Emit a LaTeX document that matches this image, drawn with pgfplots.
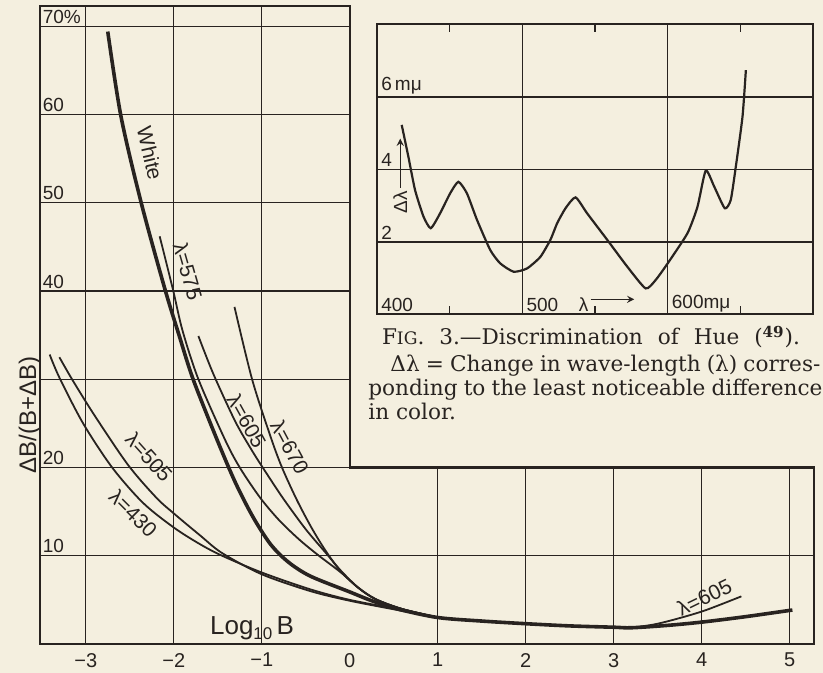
\documentclass[border=0pt]{standalone}
\usepackage{fontspec}
\usepackage{pgfplots}
\pgfplotsset{compat=1.18}
\newfontfamily\chart{Liberation Sans}
\newfontfamily\capfont{DejaVu Serif}
\definecolor{paper}{RGB}{244,239,223}
\definecolor{ink}{RGB}{40,35,32}
\begin{document}
\begin{tikzpicture}
\fill[paper] (0pt,0pt) rectangle (411.5pt,336.5pt);
\useasboundingbox (0pt,0pt) rectangle (411.5pt,336.5pt);
% ---------------- main chart ----------------
\begin{axis}[
  at={(20pt,14.5pt)}, anchor=south west,
  scale only axis, width=387.2pt, height=319pt,
  xmin=-3.52, xmax=5.28, ymin=0, ymax=72.3,
  axis line style={draw=none},
  xtick={-3,-2,-1,0,1,2,3,4,5},
  xticklabels={−3,−2,−1,0,1,2,3,4,5},
  ytick=\empty,
  major tick length=0pt,
  xticklabel style={font=\chart\fontsize{10}{12}\selectfont, text=ink, yshift=-1pt},
  clip=false,
]
% grid
\draw[ink, line width=0.7pt]
  (axis cs:-3,0) -- (axis cs:-3,72.3)
  (axis cs:-2,0) -- (axis cs:-2,72.3)
  (axis cs:-1,0) -- (axis cs:-1,72.3)
  (axis cs:1,0) -- (axis cs:1,20)
  (axis cs:2,0) -- (axis cs:2,20)
  (axis cs:3,0) -- (axis cs:3,20)
  (axis cs:4,0) -- (axis cs:4,20)
  (axis cs:5,0) -- (axis cs:5,20)
  (axis cs:-3.52,10) -- (axis cs:5.28,10)
  (axis cs:-3.52,20) -- (axis cs:0,20)
  (axis cs:-3.52,30) -- (axis cs:0,30)
  (axis cs:-3.52,40) -- (axis cs:0,40)
  (axis cs:-3.52,50) -- (axis cs:0,50)
  (axis cs:-3.52,60) -- (axis cs:0,60)
  (axis cs:-3.52,70) -- (axis cs:0,70);
% L-shaped frame
\draw[ink, line width=1.1pt] (axis cs:-3.52,0) -- (axis cs:5.28,0) -- (axis cs:5.28,20)
  -- (axis cs:0,20) -- (axis cs:0,72.3) -- (axis cs:-3.52,72.3) -- cycle;
% y value labels inside the plot
\begin{scope}[every node/.style={font=\chart\fontsize{9.5}{10}\selectfont, text=ink, anchor=south west, inner sep=1.2pt}]
\node at (axis cs:-3.52,70) {70\%};
\node at (axis cs:-3.52,60) {60};
\node at (axis cs:-3.52,50) {50};
\node at (axis cs:-3.52,40) {40};
\node at (axis cs:-3.52,20) {20};
\node at (axis cs:-3.52,10) {10};
\end{scope}
% curves
% White
\addplot[ink, line width=1.8pt, smooth, tension=0.5] coordinates {
(-2.75,69.4) (-2.60,59.8) (-2.37,50.0) (-2.10,40.2) (-1.94,35.0) (-1.78,30.0)
(-1.51,23.2) (-1.30,18.3) (-1.10,14.4) (-0.90,11.3) (-0.70,9.3) (-0.45,7.7)
(0,5.9) (0.25,4.9) (0.55,3.95) (1.0,3.0) (1.5,2.6) (2.0,2.3) (2.5,2.05)
(3.0,1.9) (3.2,1.84) (3.6,2.1) (4.0,2.48) (4.5,3.1) (5.03,3.85)};
% 575
\addplot[ink, line width=0.9pt, smooth, tension=0.5] coordinates {
(-2.16,46.2) (-2.01,40.2) (-1.90,35.5) (-1.72,30.0) (-1.42,23.2) (-1.25,20.0)
(-1.02,16.6) (-0.80,14.0) (-0.57,11.8) (-0.35,10.0) (-0.1,8.1) (0.1,6.35)
(0.3,5.05) (0.6,3.95) (1.0,3.0)};
% 605
\addplot[ink, line width=0.9pt, smooth, tension=0.5] coordinates {
(-1.72,34.9) (-1.55,30.6) (-1.30,25.2) (-1.11,21.9) (-0.95,19.4) (-0.75,16.4)
(-0.5,13.0) (-0.27,10.3) (-0.1,8.3) (0.1,6.35) (0.3,5.05) (0.6,3.95) (1.0,3.0)};
% 670
\addplot[ink, line width=0.9pt, smooth, tension=0.5] coordinates {
(-1.31,38.2) (-1.11,30.0) (-0.90,23.5) (-0.77,20.0) (-0.6,16.3) (-0.43,13.1)
(-0.27,10.5) (-0.1,8.2) (0.1,6.35) (0.3,5.05) (0.6,3.95) (1.0,3.0)};
% 430
\addplot[ink, line width=0.9pt, smooth, tension=0.5] coordinates {
(-3.41,32.8) (-3.30,30.2) (-3.03,25.0) (-2.70,20.0) (-2.35,16.0) (-2.0,13.2)
(-1.7,11.3) (-1.45,10.0) (-1.0,8.1) (-0.45,6.2) (0,5.0) (0.57,3.9) (1.0,3.0)};
% 505
\addplot[ink, line width=0.9pt, smooth, tension=0.5] coordinates {
(-3.30,32.5) (-3.15,29.9) (-2.90,25.9) (-2.52,20.3) (-2.2,16.6) (-2.0,14.8)
(-1.7,12.3) (-1.45,10.3) (-1.0,7.9) (-0.45,6.0) (0,4.9) (0.57,3.8) (1.0,3.0)};
% 605 branch at high luminance
\addplot[ink, line width=0.9pt, smooth, tension=0.5] coordinates {
(3.2,1.84) (3.45,2.2) (3.68,2.75) (4.03,3.78) (4.45,5.4)};
% curve labels
\begin{scope}[every node/.style={font=\chart\fontsize{10.5}{12}\selectfont, text=ink, inner sep=0pt}]
\node[rotate=-77] at (axis cs:-2.27,55.6) {White};
\node[rotate=-74] at (axis cs:-1.84,42.2) {λ=575};
\node[rotate=-61] at (axis cs:-1.17,25.3) {λ=605};
\node[rotate=-62] at (axis cs:-0.68,22.3) {λ=670};
\node[rotate=-48] at (axis cs:-2.28,21.2) {λ=505};
\node[rotate=-45] at (axis cs:-2.46,14.8) {λ=430};
\node[rotate=26] at (axis cs:4.03,5.3) {λ=605};
\end{scope}
\node[font=\chart\fontsize{13}{14}\selectfont, text=ink] at (axis cs:-1.11,1.75)
  {Log\raisebox{-2.5pt}{\fontsize{8.5}{9}\selectfont 10}\,B};
\end{axis}
% y axis label
\node[rotate=90, font=\chart\fontsize{12}{13}\selectfont, text=ink] at (15pt,129pt) {ΔB/(B+ΔB)};
% ---------------- inset ----------------
\begin{axis}[
  at={(188.5pt,179.25pt)}, anchor=south west,
  scale only axis, width=218pt, height=145pt,
  xmin=400, xmax=700, ymin=0, ymax=8,
  axis line style={ink, line width=1pt},
  xtick={450,550,650}, xticklabels={}, ytick=\empty,
  tick align=inside, major tick length=4pt,
  tick style={ink, line width=0.7pt},
  xtick pos=both,
  clip=false,
]
\draw[ink, line width=0.7pt]
  (axis cs:500,0) -- (axis cs:500,8)
  (axis cs:600,0) -- (axis cs:600,8)
  (axis cs:400,2) -- (axis cs:700,2)
  (axis cs:400,4) -- (axis cs:700,4)
  (axis cs:400,6) -- (axis cs:700,6);
\addplot[ink, line width=1.1pt, smooth, tension=0.35] coordinates {
(417,5.23) (421.6,4.35) (426.2,3.43) (432,2.70) (437,2.38) (443.4,2.79) (450.3,3.34)
(456,3.66) (461.9,3.34) (468.8,2.61) (477.9,1.78) (484.8,1.41) (494,1.18) (503.2,1.27)
(512.4,1.59) (519.3,2.06) (524,2.52) (529.7,2.93) (536.6,3.23) (544.6,2.79) (558.4,2.06)
(572.2,1.32) (584.8,0.72) (591.7,0.95) (600,1.41) (613.6,2.24) (620.5,2.97) (626.2,3.97)
(632,3.53) (639.3,2.93) (643.4,3.16) (646.9,4.08) (651.5,5.46) (653.8,6.74)};
\begin{scope}[every node/.style={font=\chart\fontsize{9.5}{10}\selectfont, text=ink, anchor=south west, inner sep=1.2pt}]
\node at (axis cs:401,6) {6\,mμ};
\node at (axis cs:401,4) {4};
\node at (axis cs:401,2) {2};
\node at (axis cs:401,0) {400};
\node at (axis cs:501,0) {500};
\node at (axis cs:537,0) {λ};
\node at (axis cs:601,0) {600mμ};
\end{scope}
\draw[ink, line width=0.6pt, -stealth] (axis cs:547,0.42) -- (axis cs:577,0.42);
\node[rotate=90, font=\chart\fontsize{9.5}{10}\selectfont, text=ink, inner sep=0pt] at (axis cs:416,3.1) {Δλ};
\draw[ink, line width=0.6pt, -stealth] (axis cs:416,3.5) -- (axis cs:416,4.85);
\end{axis}
% ---------------- caption ----------------
\begin{scope}[every node/.style={font=\capfont\fontsize{10.8}{12}\selectfont, text=ink, inner sep=0pt}]
\node[anchor=base] at (295.5pt,164pt) {\makebox[209pt][s]{F{\fontsize{8.6}{9}\selectfont IG}. 3.—Discrimination of Hue (\textsuperscript{\textbf{49}}).}};
\node[anchor=base west] at (195pt,150.5pt) {\makebox[215pt][s]{Δλ = Change in wave-length (λ) corres-}};
\node[anchor=base west] at (184pt,138.5pt) {\makebox[227pt][s]{ponding to the least noticeable difference}};
\node[anchor=base west] at (184pt,126.5pt) {in color.};
\end{scope}
\end{tikzpicture}
\end{document}
